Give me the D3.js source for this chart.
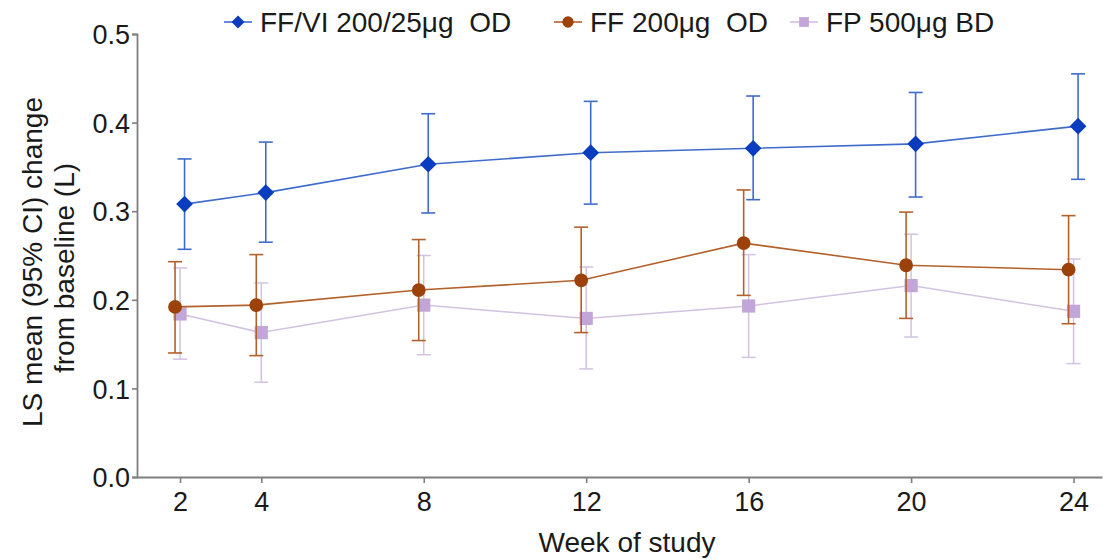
<!DOCTYPE html>
<html><head><meta charset="utf-8">
<script src="https://cdn.jsdelivr.net/npm/d3@7"></script>
<style>body{margin:0;background:#fff}svg{display:block}text{font-family:"Liberation Sans",Arial,sans-serif;fill:#1a1a1a;white-space:pre}</style>
</head><body><svg id="c" width="1107" height="560"></svg>
<script>
const weeks = [2, 4, 8, 12, 16, 20, 24];
const yTicks = [0.0, 0.1, 0.2, 0.3, 0.4, 0.5];
const seriesNames = ["FF/VI 200/25\u03bcg  OD", "FF 200\u03bcg  OD", "FP 500\u03bcg BD"];
const ffviMean = [0.308, 0.321, 0.353, 0.366, 0.371, 0.376, 0.396];
const ffviLow  = [0.257, 0.265, 0.298, 0.308, 0.313, 0.316, 0.336];
const ffviHigh = [0.359, 0.378, 0.410, 0.424, 0.430, 0.434, 0.455];
const ffMean = [0.192, 0.194, 0.211, 0.222, 0.264, 0.239, 0.234];
const ffLow  = [0.140, 0.137, 0.154, 0.163, 0.205, 0.179, 0.173];
const ffHigh = [0.243, 0.251, 0.268, 0.282, 0.324, 0.299, 0.295];
const fpMean = [0.184, 0.163, 0.194, 0.179, 0.193, 0.216, 0.187];
const fpLow  = [0.133, 0.107, 0.138, 0.122, 0.135, 0.158, 0.128];
const fpHigh = [0.236, 0.219, 0.250, 0.237, 0.251, 0.274, 0.246];

const series = [
  {name: seriesNames[0], mean: ffviMean, low: ffviLow, high: ffviHigh, dx: 4.5, line: "#3f6ccb", marker: "#0a3cc0", shape: d3.symbolSquare, rot: 45, size: 140, legSize: 85, lw: 1.6, legX: 238},
  {name: seriesNames[1], mean: ffMean, low: ffLow, high: ffHigh, dx: -5, line: "#b3612b", marker: "#9c4208", shape: d3.symbolCircle, rot: 0, size: 150, legSize: 100, lw: 1.6, legX: 568},
  {name: seriesNames[2], mean: fpMean, low: fpLow, high: fpHigh, dx: 0, line: "#d3c2e2", marker: "#c3a6d8", shape: d3.symbolSquare, rot: 0, size: 175, legSize: 95, lw: 1.5, legX: 804}
];

const svg = d3.select("#c");
const x = d3.scaleLinear().domain([0.94, 24.7]).range([137, 1102]);
const y = d3.scaleLinear().domain([0, 0.5]).range([477, 34]);
const axisColor = "#7f7f7f";

// axes
const gx = svg.append("g").attr("transform", "translate(0,477)")
  .call(d3.axisBottom(x).tickValues(weeks).tickSizeInner(6).tickSizeOuter(0).tickPadding(9).tickFormat(d3.format("d")));
const gy = svg.append("g").attr("transform", "translate(137,0)")
  .call(d3.axisLeft(y).tickValues(yTicks).tickSize(5).tickPadding(2).tickFormat(d3.format(".1f")));
[gx, gy].forEach(g => {
  g.attr("font-size", null).attr("font-family", null);
  g.select(".domain").attr("stroke", axisColor).attr("stroke-width", 1.8);
  g.selectAll(".tick line").attr("stroke", axisColor).attr("stroke-width", 1.6);
  g.selectAll(".tick text").style("font-size", "27px").attr("fill", "#1a1a1a");
});
gy.selectAll(".tick text").attr("dy", "0.36em");

// axis titles
svg.append("text").attr("x", 627).attr("y", 552).attr("text-anchor", "middle").style("font-size", "28px").text("Week of study");
const yt = svg.append("text").attr("transform", "rotate(-90)").attr("text-anchor", "middle").style("font-size", "28px");
yt.append("tspan").attr("x", -262).attr("y", 42).text("LS mean (95% CI) change");
yt.append("tspan").attr("x", -268).attr("y", 74).text("from baseline (L)");

// series: lilac first, then brown, then blue
[series[2], series[1], series[0]].forEach(s => {
  const g = svg.append("g");
  const pts = weeks.map((w, i) => ({w, m: s.mean[i], lo: s.low[i], hi: s.high[i]}));
  const px = d => x(d.w) + s.dx;
  pts.forEach(d => {
    g.append("line").attr("x1", px(d)).attr("x2", px(d)).attr("y1", y(d.lo)).attr("y2", y(d.hi)).attr("stroke", s.line).attr("stroke-width", s.lw);
    [d.lo, d.hi].forEach(v => g.append("line").attr("x1", px(d) - 7).attr("x2", px(d) + 7).attr("y1", y(v)).attr("y2", y(v)).attr("stroke", s.line).attr("stroke-width", s.lw));
  });
  g.append("path").datum(pts).attr("fill", "none").attr("stroke", s.line).attr("stroke-width", s.lw)
    .attr("d", d3.line().x(px).y(d => y(d.m)));
  g.selectAll(".m").data(pts).enter().append("path")
    .attr("transform", d => `translate(${px(d)},${y(d.m)}) rotate(${s.rot})`)
    .attr("d", d3.symbol().type(s.shape).size(s.size)).attr("fill", s.marker);
});

// legend
series.forEach(s => {
  const g = svg.append("g").attr("transform", `translate(${s.legX},22)`);
  g.append("line").attr("x1", -14).attr("x2", 14).attr("stroke", s.line).attr("stroke-width", 1.6);
  g.append("path").attr("transform", `rotate(${s.rot})`).attr("d", d3.symbol().type(s.shape).size(s.legSize)).attr("fill", s.marker);
  g.append("text").attr("x", 22).attr("y", 10).style("font-size", "28px").text(s.name);
});
</script></body></html>
